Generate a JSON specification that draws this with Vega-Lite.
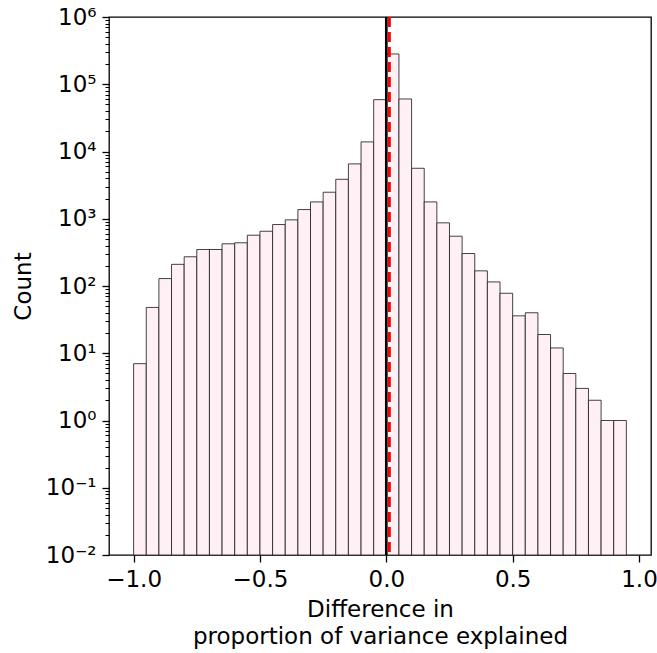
{
  "$schema": "https://vega.github.io/schema/vega-lite/v6.json",
  "width": 542,
  "height": 538,
  "autosize": "none",
  "padding": {"left": 109, "top": 17, "right": 6, "bottom": 98},
  "background": "white",
  "config": {
    "font": "DejaVu Sans",
    "view": {"stroke": "black", "strokeWidth": 1.3},
    "axis": {
      "domain": false,
      "grid": false,
      "labelFont": "DejaVu Sans",
      "titleFont": "DejaVu Sans",
      "labelColor": "black",
      "titleColor": "black",
      "tickColor": "black",
      "labelFontSize": 23,
      "titleFontSize": 23,
      "titleFontWeight": "normal"
    }
  },
  "layer": [
    {
      "data": {
        "values": [
          {"bin_start": -1.00, "bin_end": -0.95, "count": 7},
          {"bin_start": -0.95, "bin_end": -0.90, "count": 48},
          {"bin_start": -0.90, "bin_end": -0.85, "count": 129},
          {"bin_start": -0.85, "bin_end": -0.80, "count": 210},
          {"bin_start": -0.80, "bin_end": -0.75, "count": 272},
          {"bin_start": -0.75, "bin_end": -0.70, "count": 349},
          {"bin_start": -0.70, "bin_end": -0.65, "count": 349},
          {"bin_start": -0.65, "bin_end": -0.60, "count": 424},
          {"bin_start": -0.60, "bin_end": -0.55, "count": 439},
          {"bin_start": -0.55, "bin_end": -0.50, "count": 569},
          {"bin_start": -0.50, "bin_end": -0.45, "count": 652},
          {"bin_start": -0.45, "bin_end": -0.40, "count": 820},
          {"bin_start": -0.40, "bin_end": -0.35, "count": 963},
          {"bin_start": -0.35, "bin_end": -0.30, "count": 1370},
          {"bin_start": -0.30, "bin_end": -0.25, "count": 1780},
          {"bin_start": -0.25, "bin_end": -0.20, "count": 2480},
          {"bin_start": -0.20, "bin_end": -0.15, "count": 3860},
          {"bin_start": -0.15, "bin_end": -0.10, "count": 6540},
          {"bin_start": -0.10, "bin_end": -0.05, "count": 13900},
          {"bin_start": -0.05, "bin_end": 0.00, "count": 59000},
          {"bin_start": 0.00, "bin_end": 0.05, "count": 282000},
          {"bin_start": 0.05, "bin_end": 0.10, "count": 60400},
          {"bin_start": 0.10, "bin_end": 0.15, "count": 5630},
          {"bin_start": 0.15, "bin_end": 0.20, "count": 1780},
          {"bin_start": 0.20, "bin_end": 0.25, "count": 869},
          {"bin_start": 0.25, "bin_end": 0.30, "count": 550},
          {"bin_start": 0.30, "bin_end": 0.35, "count": 304},
          {"bin_start": 0.35, "bin_end": 0.40, "count": 168},
          {"bin_start": 0.40, "bin_end": 0.45, "count": 115},
          {"bin_start": 0.45, "bin_end": 0.50, "count": 78},
          {"bin_start": 0.50, "bin_end": 0.55, "count": 36},
          {"bin_start": 0.55, "bin_end": 0.60, "count": 40},
          {"bin_start": 0.60, "bin_end": 0.65, "count": 19},
          {"bin_start": 0.65, "bin_end": 0.70, "count": 12},
          {"bin_start": 0.70, "bin_end": 0.75, "count": 5},
          {"bin_start": 0.75, "bin_end": 0.80, "count": 3},
          {"bin_start": 0.80, "bin_end": 0.85, "count": 2},
          {"bin_start": 0.85, "bin_end": 0.90, "count": 1},
          {"bin_start": 0.90, "bin_end": 0.95, "count": 1}
        ]
      },
      "mark": {"type": "bar", "fill": "#fff0f5", "stroke": "#222222", "strokeWidth": 1, "strokeOpacity": 0.85},
      "encoding": {
        "x": {
          "field": "bin_start",
          "type": "quantitative",
          "scale": {"domain": [-1.0975, 1.0475], "nice": false, "zero": false},
          "axis": {
            "values": [-1, -0.5, 0, 0.5, 1],
            "format": ".1f",
            "tickSize": 7,
            "tickWidth": 1.3,
            "labelPadding": 6,
            "title": ["Difference in", "proportion of variance explained"],
            "titlePadding": 7,
            "titleLineHeight": 27
          }
        },
        "x2": {"field": "bin_end"},
        "y": {
          "field": "count",
          "type": "quantitative",
          "scale": {"type": "log", "domain": [0.01, 1000000], "nice": false, "clamp": true},
          "axis": {
            "values": [0.01,0.02,0.03,0.04,0.05,0.06,0.07,0.08,0.09,
                       0.1,0.2,0.3,0.4,0.5,0.6,0.7,0.8,0.9,
                       1,2,3,4,5,6,7,8,9,
                       10,20,30,40,50,60,70,80,90,
                       100,200,300,400,500,600,700,800,900,
                       1000,2000,3000,4000,5000,6000,7000,8000,9000,
                       10000,20000,30000,40000,50000,60000,70000,80000,90000,
                       100000,200000,300000,400000,500000,600000,700000,800000,900000,
                       1000000],
            "labelExpr": "abs(log(datum.value)/LN10 - round(log(datum.value)/LN10)) > 0.001 ? '' : ['10⁻²','10⁻¹','10⁰','10¹','10²','10³','10⁴','10⁵','10⁶'][round(log(datum.value)/LN10)+2]",
            "labelOverlap": false,
            "labelBound": false,
            "labelFlush": false,
            "labelPadding": 6,
            "tickSize": {"condition": {"test": "abs(log(datum.value)/LN10 - round(log(datum.value)/LN10)) < 0.001", "value": 7}, "value": 4},
            "tickWidth": {"condition": {"test": "abs(log(datum.value)/LN10 - round(log(datum.value)/LN10)) < 0.001", "value": 1.3}, "value": 1},
            "title": "Count",
            "titlePadding": 10
          }
        },
        "y2": {"datum": 0.01}
      }
    },
    {
      "data": {"values": [{"x": 0}]},
      "mark": {"type": "rule", "color": "black", "strokeWidth": 2.7},
      "encoding": {"x": {"field": "x", "type": "quantitative"}}
    },
    {
      "data": {"values": [{"x": 0.012}]},
      "mark": {"type": "rule", "color": "red", "strokeWidth": 3, "strokeDash": [10, 5]},
      "encoding": {"x": {"field": "x", "type": "quantitative"}}
    }
  ]
}
